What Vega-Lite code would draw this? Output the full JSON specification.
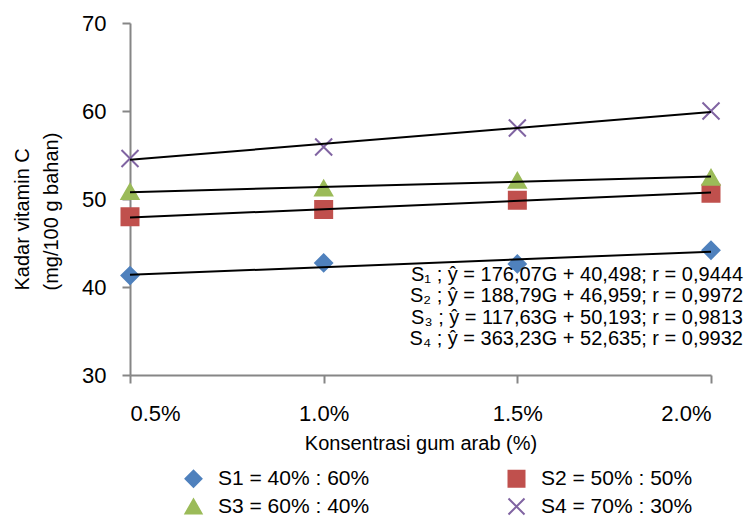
{
  "$schema": "https://vega.github.io/schema/vega-lite/v6.json",
  "width": 581,
  "height": 352,
  "autosize": {"type": "none"},
  "padding": {"left": 130, "top": 23, "right": 39, "bottom": 142},
  "background": "white",
  "config": {
    "font": "Liberation Sans, Arial, sans-serif",
    "view": {"stroke": null},
    "axis": {
      "grid": false,
      "domainColor": "#868686",
      "domainWidth": 2,
      "tickColor": "#868686",
      "tickWidth": 2,
      "tickSize": 8,
      "labelFont": "Liberation Sans, Arial, sans-serif",
      "labelFontSize": 22,
      "labelColor": "#000000",
      "titleFont": "Liberation Sans, Arial, sans-serif",
      "titleFontSize": 20,
      "titleFontWeight": "normal",
      "titleColor": "#000000"
    },
    "legend": {
      "labelFont": "Liberation Sans, Arial, sans-serif",
      "labelFontSize": 21,
      "labelColor": "#000000",
      "labelLimit": 400
    }
  },
  "datasets": {
    "obs": [
      {"series": "S1 = 40% : 60%", "G": 0.005, "vitC": 41.3},
      {"series": "S1 = 40% : 60%", "G": 0.01, "vitC": 42.74},
      {"series": "S1 = 40% : 60%", "G": 0.015, "vitC": 42.62},
      {"series": "S1 = 40% : 60%", "G": 0.02, "vitC": 44.18},
      {"series": "S2 = 50% : 50%", "G": 0.005, "vitC": 47.97},
      {"series": "S2 = 50% : 50%", "G": 0.01, "vitC": 48.8},
      {"series": "S2 = 50% : 50%", "G": 0.015, "vitC": 49.87},
      {"series": "S2 = 50% : 50%", "G": 0.02, "vitC": 50.66},
      {"series": "S3 = 60% : 40%", "G": 0.005, "vitC": 50.85},
      {"series": "S3 = 60% : 40%", "G": 0.01, "vitC": 51.23},
      {"series": "S3 = 60% : 40%", "G": 0.015, "vitC": 52.12},
      {"series": "S3 = 60% : 40%", "G": 0.02, "vitC": 52.46},
      {"series": "S4 = 70% : 30%", "G": 0.005, "vitC": 54.6},
      {"series": "S4 = 70% : 30%", "G": 0.01, "vitC": 55.9},
      {"series": "S4 = 70% : 30%", "G": 0.015, "vitC": 58.06},
      {"series": "S4 = 70% : 30%", "G": 0.02, "vitC": 60.0}
    ],
    "trend": [
      {"series": "S1", "G": 0.005, "vitC": 41.378},
      {"series": "S1", "G": 0.02, "vitC": 44.019},
      {"series": "S2", "G": 0.005, "vitC": 47.903},
      {"series": "S2", "G": 0.02, "vitC": 50.735},
      {"series": "S3", "G": 0.005, "vitC": 50.781},
      {"series": "S3", "G": 0.02, "vitC": 52.546},
      {"series": "S4", "G": 0.005, "vitC": 54.451},
      {"series": "S4", "G": 0.02, "vitC": 59.9}
    ],
    "equations": [
      {"lines": ["S₁ ; ŷ = 176,07G + 40,498; r = 0,9444", "S₂ ; ŷ = 188,79G + 46,959; r = 0,9972", "S₃ ; ŷ = 117,63G + 50,193; r = 0,9813", "S₄ ; ŷ = 363,23G + 52,635; r = 0,9932"]}
    ]
  },
  "layer": [
    {
      "data": {"name": "obs"},
      "mark": {"type": "point", "filled": true, "size": 289, "strokeWidth": 2, "opacity": 1},
      "encoding": {
        "x": {
          "field": "G", "type": "quantitative",
          "scale": {"domain": [0.005, 0.02], "nice": false, "zero": false},
          "axis": {"values": [0.005, 0.01, 0.015, 0.02], "format": ".1%", "labelPadding": 20, "title": "Konsentrasi gum arab (%)", "titlePadding": 9}
        },
        "y": {
          "field": "vitC", "type": "quantitative",
          "scale": {"domain": [30, 70], "nice": false, "zero": false},
          "axis": {"values": [30, 40, 50, 60, 70], "labelPadding": 16, "title": ["Kadar vitamin C", "(mg/100 g bahan)"], "titlePadding": 20, "titleLineHeight": 29, "titleAlign": "left", "titleY": 267}
        },
        "color": {
          "field": "series", "type": "nominal",
          "scale": {"domain": ["S1 = 40% : 60%", "S2 = 50% : 50%", "S3 = 60% : 40%", "S4 = 70% : 30%"], "range": ["#4F81BD", "#C0504D", "#9BBB59", "#8064A2"]},
          "legend": {
            "title": null, "orient": "none", "legendX": 53, "legendY": 445,
            "direction": "horizontal", "columns": 2, "columnPadding": 134, "rowPadding": 3,
            "labelOffset": 14, "symbolSize": 256, "symbolStrokeWidth": 2, "padding": 0
          }
        },
        "stroke": {
          "field": "series", "type": "nominal",
          "scale": {"domain": ["S1 = 40% : 60%", "S2 = 50% : 50%", "S3 = 60% : 40%", "S4 = 70% : 30%"], "range": ["#4F81BD", "#C0504D", "#9BBB59", "#8064A2"]},
          "legend": {
            "title": null, "orient": "none", "legendX": 53, "legendY": 445,
            "direction": "horizontal", "columns": 2, "columnPadding": 134, "rowPadding": 3,
            "labelOffset": 14, "symbolSize": 256, "symbolStrokeWidth": 2, "padding": 0
          }
        },
        "shape": {
          "field": "series", "type": "nominal",
          "scale": {"domain": ["S1 = 40% : 60%", "S2 = 50% : 50%", "S3 = 60% : 40%", "S4 = 70% : 30%"], "range": ["diamond", "square", "triangle-up", "M-1,-1L1,1M-1,1L1,-1"]},
          "legend": {
            "title": null, "orient": "none", "legendX": 53, "legendY": 445,
            "direction": "horizontal", "columns": 2, "columnPadding": 134, "rowPadding": 3,
            "labelOffset": 14, "symbolSize": 256, "symbolStrokeWidth": 2, "padding": 0
          }
        }
      }
    },
    {
      "data": {"name": "trend"},
      "mark": {"type": "line", "color": "#000000", "strokeWidth": 2},
      "encoding": {
        "x": {"field": "G", "type": "quantitative"},
        "y": {"field": "vitC", "type": "quantitative"},
        "detail": {"field": "series", "type": "nominal"}
      }
    },
    {
      "data": {"name": "equations"},
      "mark": {
        "type": "text",
        "align": "right", "baseline": "middle", "dx": 32, "fontSize": 20, "lineHeight": 21.5,
        "font": "Liberation Sans, Arial, sans-serif", "color": "#000000"
      },
      "encoding": {
        "text": {"field": "lines", "type": "nominal"},
        "x": {"datum": 0.02, "type": "quantitative"},
        "y": {"datum": 41.4, "type": "quantitative"}
      }
    }
  ]
}
